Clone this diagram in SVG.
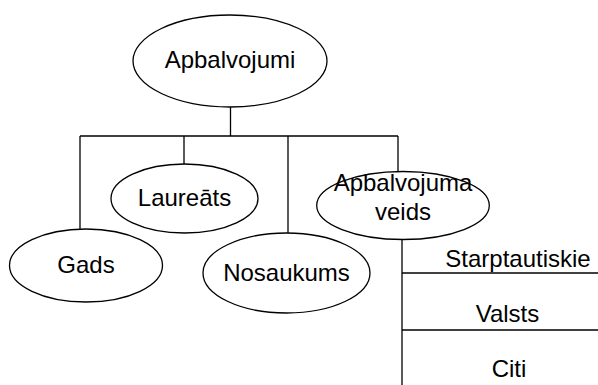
<svg xmlns="http://www.w3.org/2000/svg" width="598" height="385" viewBox="0 0 598 385">
<style>
.n ellipse{fill:#fff;stroke:#000;stroke-width:1.3}
.c line{stroke:#000;stroke-width:1.3}
text{font-family:"Liberation Sans",Arial,sans-serif;font-size:24px;fill:#000;text-anchor:middle}
</style>
<rect width="598" height="385" fill="#fff"/>
<g id="connectors" class="c">
<line x1="230.5" y1="107" x2="230.5" y2="136"/>
<line x1="80" y1="136" x2="398" y2="136"/>
<line x1="80" y1="136" x2="80" y2="229"/>
<line x1="184" y1="136" x2="184" y2="164"/>
<line x1="288" y1="136" x2="288" y2="233"/>
<line x1="398" y1="136" x2="398" y2="172"/>
<line x1="402" y1="239" x2="402" y2="385"/>
<line x1="402" y1="273" x2="598" y2="273"/>
<line x1="402" y1="330" x2="598" y2="330"/>
</g>
<g id="apbalvojumi" class="n"><ellipse cx="230" cy="61" rx="97" ry="46"/><text x="230" y="68">Apbalvojumi</text></g>
<g id="laureats" class="n"><ellipse cx="184.5" cy="198.5" rx="73.5" ry="34.5"/><text x="184.5" y="206">Laureāts</text></g>
<g id="gads" class="n"><ellipse cx="86" cy="265.5" rx="76.5" ry="36.5"/><text x="86" y="273">Gads</text></g>
<g id="nosaukums" class="n"><ellipse cx="286.5" cy="273" rx="83.5" ry="40"/><text x="286.5" y="281">Nosaukums</text></g>
<g id="veids" class="n"><ellipse cx="403" cy="205.5" rx="86.3" ry="34"/><text x="403" y="191">Apbalvojuma</text><text x="403" y="220">veids</text></g>
<g id="starptautiskie"><text x="518" y="266.5">Starptautiskie</text></g>
<g id="valsts"><text x="507.5" y="321.5">Valsts</text></g>
<g id="citi"><text x="509" y="376.5">Citi</text></g>
</svg>
